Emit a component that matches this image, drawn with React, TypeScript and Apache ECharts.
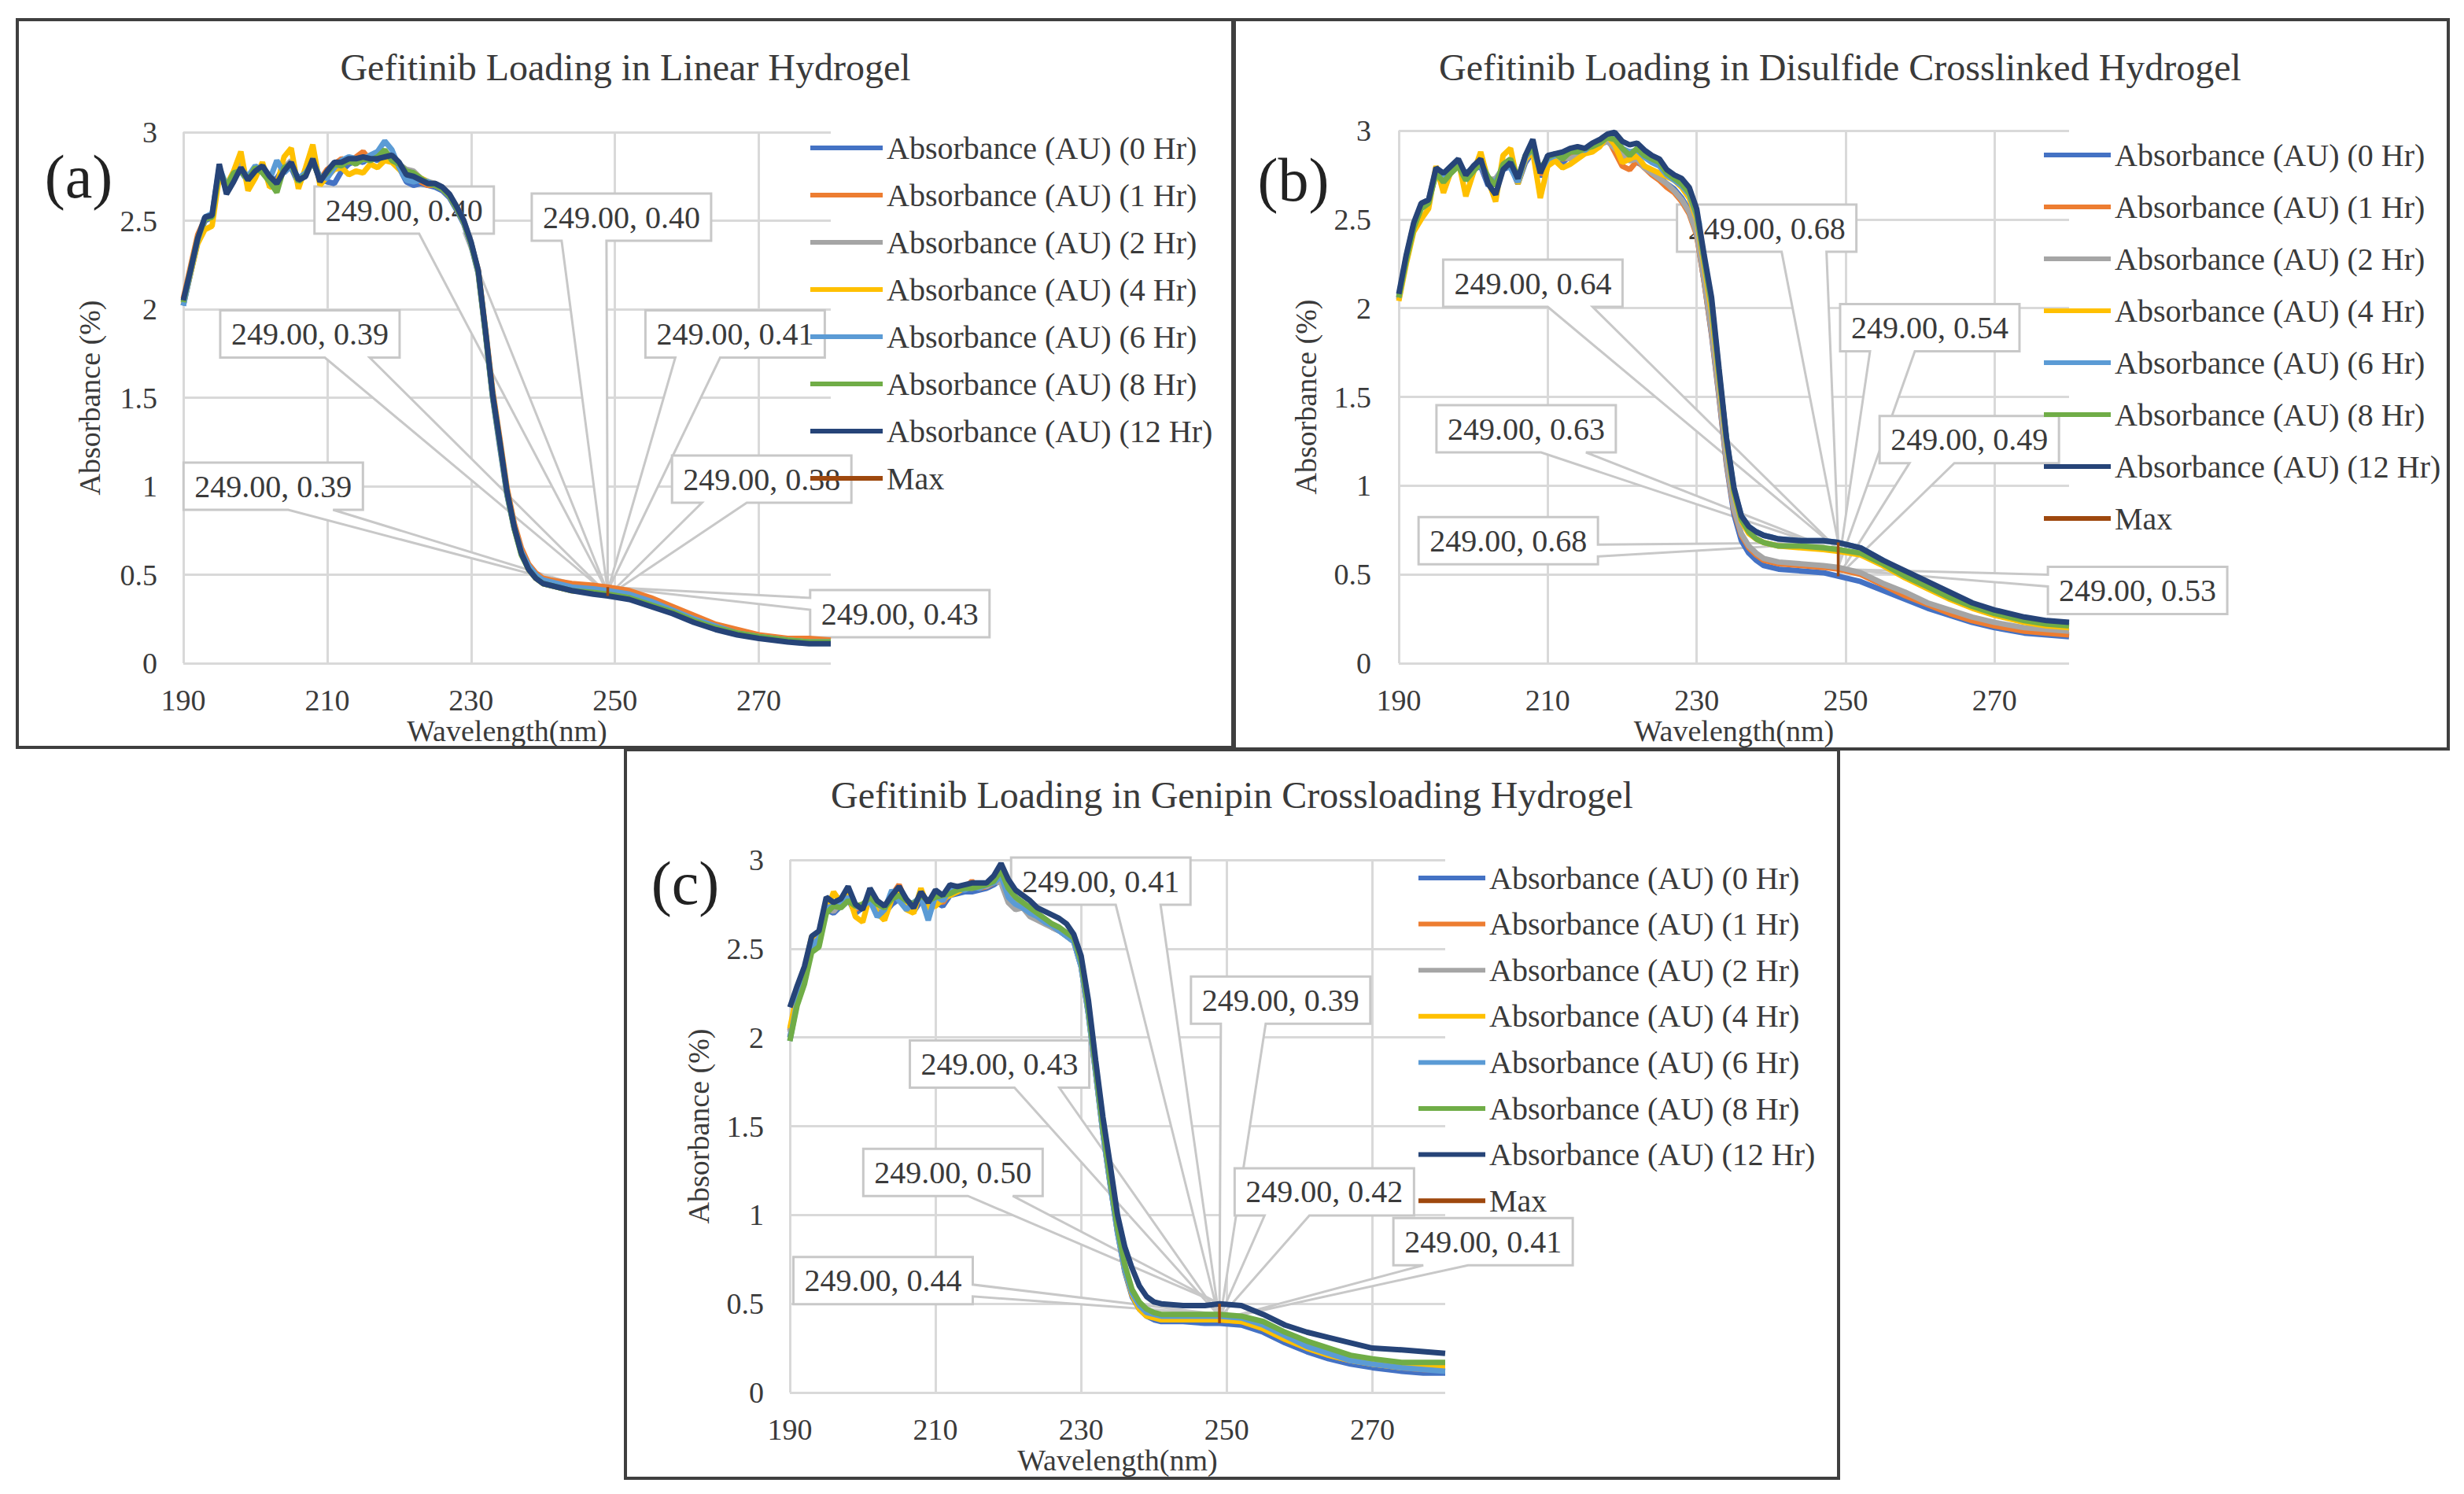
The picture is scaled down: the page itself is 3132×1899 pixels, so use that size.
import React, { useEffect, useRef } from "react";
import * as echarts from "echarts";

// wavelength grid shared by every curve (nm)
const wavelengths = [
  190, 191, 192, 193, 194, 195, 196, 197, 198, 199,
  200, 201, 202, 203, 204, 205, 206, 207, 208, 209,
  210, 211, 212, 213, 214, 215, 216, 217, 218, 219,
  220, 221, 222, 223, 224, 225, 226, 227, 228, 229,
  230, 231, 232, 233, 234, 235, 236, 237, 238, 239,
  240, 241, 244, 247, 249, 252, 255, 258, 261, 264,
  267, 270, 274, 277, 280,
];

const hours = ["0 Hr", "1 Hr", "2 Hr", "4 Hr", "6 Hr", "8 Hr", "12 Hr"];
const seriesNames = hours.map((h) => `Absorbance (AU) (${h})`);
const seriesColors = ["#4472C4", "#ED7D31", "#A5A5A5", "#FFC000", "#5B9BD5", "#70AD47", "#264478"];
const maxColor = "#9E480E";
const maxWavelength = 249;

// ---- (a) linear hydrogel ----
const lin0 = [
  2.02, 2.2, 2.38, 2.5, 2.52, 2.78, 2.68, 2.75, 2.78, 2.72,
  2.8, 2.79, 2.72, 2.74, 2.8, 2.8, 2.71, 2.78, 2.83, 2.74,
  2.72, 2.71, 2.78, 2.82, 2.84, 2.83, 2.86, 2.84, 2.88, 2.85,
  2.8, 2.72, 2.7, 2.71, 2.7, 2.69, 2.67, 2.63, 2.56, 2.48,
  2.36, 2.2, 1.86, 1.5, 1.22, 0.95, 0.76, 0.62, 0.54, 0.49,
  0.46, 0.45, 0.43, 0.41, 0.4, 0.38, 0.34, 0.3, 0.25, 0.21,
  0.17, 0.15, 0.13, 0.12, 0.12,
];
const lin1 = [
  2.06, 2.24, 2.42, 2.51, 2.52, 2.76, 2.69, 2.77, 2.82, 2.71,
  2.77, 2.8, 2.74, 2.72, 2.79, 2.82, 2.72, 2.76, 2.84, 2.73,
  2.79, 2.82, 2.85, 2.83, 2.86, 2.89, 2.84, 2.88, 2.85, 2.84,
  2.81, 2.74, 2.76, 2.72, 2.7, 2.7, 2.68, 2.64, 2.57, 2.49,
  2.37, 2.22, 1.89, 1.54, 1.27, 0.99, 0.79, 0.65, 0.56, 0.51,
  0.48, 0.47, 0.45, 0.44, 0.43, 0.41, 0.37, 0.32, 0.27, 0.22,
  0.19, 0.16, 0.14, 0.14, 0.13,
];
const lin2 = [
  2.04, 2.21, 2.39, 2.51, 2.53, 2.79, 2.67, 2.74, 2.83, 2.72,
  2.79, 2.8, 2.74, 2.7, 2.8, 2.84, 2.71, 2.77, 2.86, 2.73,
  2.77, 2.8, 2.82, 2.84, 2.83, 2.85, 2.87, 2.86, 2.89, 2.86,
  2.82, 2.79, 2.78, 2.74, 2.72, 2.71, 2.69, 2.65, 2.58, 2.5,
  2.38, 2.21, 1.87, 1.51, 1.24, 0.96, 0.77, 0.62, 0.54, 0.49,
  0.46, 0.45, 0.42, 0.41, 0.4, 0.38, 0.34, 0.29, 0.25, 0.2,
  0.17, 0.15, 0.13, 0.12, 0.12,
];
const lin4 = [
  2.03, 2.2, 2.37, 2.45, 2.47, 2.75, 2.7, 2.78, 2.89, 2.67,
  2.74, 2.83, 2.69, 2.7, 2.86, 2.91, 2.68, 2.8, 2.93, 2.7,
  2.75, 2.79, 2.8, 2.76, 2.78, 2.77, 2.82, 2.8, 2.84, 2.83,
  2.79, 2.75, 2.77, 2.74, 2.72, 2.7, 2.68, 2.64, 2.57, 2.49,
  2.37, 2.21, 1.87, 1.52, 1.25, 0.97, 0.77, 0.62, 0.53, 0.48,
  0.45, 0.44, 0.41, 0.4, 0.39, 0.37, 0.33, 0.29, 0.24, 0.2,
  0.17, 0.15, 0.13, 0.12, 0.12,
];
const lin6 = [
  2.02, 2.21, 2.39, 2.52, 2.54, 2.8, 2.7, 2.76, 2.79, 2.75,
  2.81, 2.78, 2.73, 2.84, 2.77, 2.81, 2.74, 2.77, 2.83, 2.75,
  2.74, 2.8, 2.84, 2.86, 2.85, 2.84, 2.87, 2.89, 2.95, 2.9,
  2.8, 2.73, 2.72, 2.73, 2.72, 2.7, 2.68, 2.64, 2.57, 2.49,
  2.37, 2.21, 1.87, 1.51, 1.24, 0.96, 0.77, 0.63, 0.55, 0.5,
  0.47, 0.46, 0.43, 0.42, 0.41, 0.39, 0.35, 0.3, 0.25, 0.21,
  0.17, 0.15, 0.13, 0.12, 0.12,
];
const lin8 = [
  2.04, 2.22, 2.4, 2.51, 2.52, 2.79, 2.69, 2.77, 2.78, 2.73,
  2.8, 2.77, 2.72, 2.66, 2.8, 2.82, 2.72, 2.76, 2.84, 2.73,
  2.77, 2.82, 2.81, 2.84, 2.82, 2.85, 2.84, 2.86, 2.9, 2.84,
  2.82, 2.78, 2.77, 2.74, 2.71, 2.7, 2.68, 2.64, 2.57, 2.49,
  2.37, 2.21, 1.87, 1.51, 1.24, 0.96, 0.76, 0.61, 0.53, 0.48,
  0.45, 0.44, 0.41, 0.4, 0.39, 0.37, 0.33, 0.29, 0.24, 0.2,
  0.17, 0.15, 0.13, 0.12, 0.12,
];
const lin12 = [
  2.05, 2.22, 2.4, 2.52, 2.53, 2.82, 2.65, 2.72, 2.8, 2.73,
  2.78, 2.81, 2.75, 2.71, 2.78, 2.83, 2.73, 2.75, 2.85, 2.72,
  2.78, 2.83, 2.83, 2.85, 2.85, 2.86, 2.85, 2.85, 2.86, 2.87,
  2.83, 2.76, 2.75, 2.73, 2.71, 2.71, 2.69, 2.65, 2.58, 2.5,
  2.38, 2.22, 1.88, 1.52, 1.25, 0.97, 0.77, 0.62, 0.53, 0.48,
  0.45, 0.44, 0.41, 0.39, 0.38, 0.36, 0.32, 0.28, 0.23, 0.19,
  0.16, 0.14, 0.12, 0.11, 0.11,
];
const maxLinear = [0.4, 0.4, 0.39, 0.41, 0.39, 0.38, 0.43];
// callout box centres [nm, absorbance]
const calloutsLinear = [
  [220.7, 2.56], [250.9, 2.52], [207.6, 1.86], [266.7, 1.86],
  [202.5, 1.0], [270.4, 1.04], [289.6, 0.28],
];

// ---- (b) disulfide crosslinked hydrogel ----
const dis0 = [
  2.05, 2.27, 2.46, 2.57, 2.6, 2.76, 2.72, 2.77, 2.8, 2.72,
  2.78, 2.8, 2.69, 2.72, 2.78, 2.8, 2.7, 2.82, 2.88, 2.74,
  2.82, 2.84, 2.82, 2.86, 2.85, 2.88, 2.9, 2.92, 2.95, 2.93,
  2.85, 2.84, 2.82, 2.8, 2.76, 2.74, 2.7, 2.67, 2.62, 2.55,
  2.42, 2.15, 1.85, 1.5, 1.12, 0.84, 0.69, 0.62, 0.58, 0.55,
  0.54, 0.53, 0.52, 0.51, 0.49, 0.46, 0.41, 0.36, 0.31, 0.27,
  0.23, 0.2, 0.17, 0.16, 0.15,
];
const dis1 = [
  2.06, 2.28, 2.47, 2.58, 2.6, 2.77, 2.73, 2.76, 2.82, 2.73,
  2.79, 2.82, 2.71, 2.7, 2.8, 2.81, 2.72, 2.84, 2.9, 2.75,
  2.83, 2.85, 2.84, 2.85, 2.87, 2.89, 2.91, 2.93, 2.96, 2.88,
  2.8, 2.78, 2.83, 2.79, 2.75, 2.72, 2.68, 2.65, 2.6, 2.53,
  2.41, 2.15, 1.86, 1.51, 1.13, 0.86, 0.72, 0.65, 0.61, 0.58,
  0.57, 0.56, 0.55, 0.54, 0.53, 0.5, 0.44, 0.38, 0.33, 0.28,
  0.24, 0.21, 0.18, 0.17, 0.16,
];
const dis2 = [
  2.07, 2.29, 2.47, 2.58, 2.61, 2.78, 2.74, 2.78, 2.81, 2.74,
  2.8, 2.81, 2.72, 2.73, 2.79, 2.82, 2.74, 2.83, 2.89, 2.77,
  2.84, 2.83, 2.85, 2.84, 2.86, 2.88, 2.9, 2.92, 2.94, 2.9,
  2.86, 2.83, 2.84, 2.79, 2.76, 2.73, 2.7, 2.66, 2.61, 2.54,
  2.42, 2.16, 1.87, 1.52, 1.14, 0.87, 0.73, 0.66, 0.62, 0.59,
  0.58, 0.57, 0.56, 0.55, 0.54, 0.51, 0.45, 0.4, 0.34, 0.3,
  0.26, 0.23, 0.2, 0.19, 0.18,
];
const dis4 = [
  2.04, 2.25, 2.43, 2.5, 2.56, 2.8, 2.65, 2.77, 2.83, 2.63,
  2.76, 2.88, 2.72, 2.6, 2.86, 2.9, 2.7, 2.84, 2.88, 2.62,
  2.8, 2.83, 2.79, 2.81, 2.84, 2.87, 2.88, 2.91, 2.97, 2.92,
  2.82, 2.84, 2.86, 2.8, 2.78, 2.76, 2.74, 2.72, 2.68, 2.62,
  2.5, 2.24, 1.98, 1.6, 1.24, 0.96, 0.8, 0.73, 0.7, 0.68,
  0.67, 0.66, 0.65, 0.64, 0.63, 0.61, 0.55, 0.48, 0.42, 0.36,
  0.31, 0.27, 0.23, 0.21, 0.2,
];
const dis6 = [
  2.06, 2.28, 2.46, 2.57, 2.6, 2.77, 2.75, 2.79, 2.81, 2.76,
  2.79, 2.81, 2.73, 2.71, 2.8, 2.79, 2.71, 2.85, 2.9, 2.77,
  2.84, 2.86, 2.86, 2.88, 2.89, 2.89, 2.92, 2.94, 2.97, 2.96,
  2.9, 2.88, 2.89, 2.85, 2.82, 2.8, 2.75, 2.72, 2.69, 2.64,
  2.52, 2.27, 2.02, 1.63, 1.26, 0.98, 0.83, 0.77, 0.74, 0.72,
  0.71, 0.7, 0.69, 0.69, 0.68, 0.65, 0.58, 0.51, 0.45, 0.39,
  0.33, 0.29, 0.25, 0.23, 0.22,
];
const dis8 = [
  2.06, 2.27, 2.45, 2.56, 2.59, 2.76, 2.71, 2.76, 2.8, 2.72,
  2.77, 2.82, 2.74, 2.69, 2.81, 2.84, 2.73, 2.86, 2.9, 2.78,
  2.85, 2.87, 2.84, 2.88, 2.88, 2.9, 2.91, 2.93, 2.96, 2.95,
  2.9, 2.86, 2.9, 2.86, 2.84, 2.82, 2.76, 2.73, 2.7, 2.65,
  2.53, 2.28, 2.03, 1.64, 1.26, 0.97, 0.81, 0.74, 0.7, 0.68,
  0.67, 0.66, 0.66, 0.65, 0.64, 0.62, 0.56, 0.49, 0.43, 0.37,
  0.32, 0.28, 0.24, 0.22, 0.21,
];
const dis12 = [
  2.08, 2.3, 2.48, 2.59, 2.61, 2.79, 2.76, 2.8, 2.84, 2.75,
  2.8, 2.84, 2.7, 2.64, 2.78, 2.82, 2.73, 2.86, 2.95, 2.76,
  2.86, 2.87, 2.88, 2.9, 2.91, 2.9, 2.93, 2.95, 2.98, 2.99,
  2.94, 2.92, 2.93, 2.89, 2.86, 2.84, 2.78, 2.75, 2.73, 2.68,
  2.56, 2.3, 2.06, 1.66, 1.27, 0.99, 0.83, 0.77, 0.74, 0.72,
  0.71, 0.7, 0.69, 0.69, 0.68, 0.65, 0.58, 0.52, 0.46, 0.4,
  0.34, 0.3, 0.26, 0.24, 0.23,
];
const maxDisulfide = [0.68, 0.64, 0.54, 0.63, 0.49, 0.68, 0.53];
const calloutsDisulfide = [
  [239.4, 2.45], [208.0, 2.14], [261.3, 1.89], [207.1, 1.32],
  [266.6, 1.26], [204.7, 0.69], [289.2, 0.41],
];

// ---- (c) genipin crossloading hydrogel ----
const gen0 = [
  2.0, 2.2, 2.32, 2.5, 2.55, 2.72, 2.7, 2.74, 2.78, 2.7,
  2.73, 2.76, 2.72, 2.7, 2.75, 2.78, 2.74, 2.71, 2.77, 2.73,
  2.76, 2.74, 2.8, 2.81, 2.82, 2.82, 2.83, 2.84, 2.86, 2.89,
  2.8, 2.76, 2.74, 2.71, 2.68, 2.65, 2.62, 2.6, 2.57, 2.54,
  2.4, 2.13, 1.8, 1.46, 1.17, 0.9, 0.68, 0.54, 0.47, 0.43,
  0.41, 0.4, 0.4, 0.39, 0.39, 0.38, 0.34, 0.28, 0.23, 0.19,
  0.16, 0.14, 0.12, 0.11, 0.11,
];
const gen1 = [
  2.04, 2.23, 2.35, 2.53, 2.57, 2.74, 2.72, 2.77, 2.8, 2.72,
  2.75, 2.78, 2.73, 2.74, 2.8, 2.86, 2.76, 2.73, 2.8, 2.75,
  2.78, 2.76, 2.82, 2.83, 2.84, 2.88, 2.84, 2.85, 2.87, 2.9,
  2.82, 2.78, 2.75, 2.72, 2.69, 2.66, 2.63, 2.61, 2.58, 2.55,
  2.41, 2.14, 1.81, 1.47, 1.18, 0.91, 0.69, 0.55, 0.48, 0.44,
  0.43, 0.42, 0.42, 0.41, 0.41, 0.4, 0.36, 0.3, 0.25, 0.21,
  0.18, 0.16, 0.14, 0.13, 0.13,
];
const gen2 = [
  2.03, 2.22, 2.34, 2.52, 2.56, 2.73, 2.71, 2.76, 2.79, 2.73,
  2.74, 2.79, 2.74, 2.72, 2.78, 2.83, 2.77, 2.74, 2.81, 2.76,
  2.77, 2.79, 2.84, 2.82, 2.85, 2.84, 2.86, 2.85, 2.88, 2.87,
  2.76, 2.72, 2.73, 2.68, 2.66, 2.64, 2.62, 2.6, 2.57, 2.54,
  2.4, 2.14, 1.81, 1.47, 1.18, 0.91, 0.7, 0.56, 0.49, 0.45,
  0.43, 0.43, 0.43, 0.42, 0.42, 0.41, 0.37, 0.31, 0.26, 0.22,
  0.19, 0.16, 0.15, 0.14, 0.14,
];
const gen4 = [
  2.05, 2.25, 2.38, 2.57, 2.58, 2.7, 2.82, 2.76, 2.81, 2.68,
  2.65, 2.8, 2.7, 2.66, 2.78, 2.82, 2.72, 2.7, 2.84, 2.73,
  2.74, 2.78, 2.8, 2.82, 2.84, 2.85, 2.87, 2.86, 2.88, 2.92,
  2.81, 2.78, 2.75, 2.72, 2.69, 2.66, 2.63, 2.61, 2.58, 2.55,
  2.41, 2.14, 1.81, 1.47, 1.18, 0.91, 0.69, 0.55, 0.47, 0.43,
  0.42, 0.41, 0.41, 0.41, 0.41, 0.4, 0.36, 0.3, 0.25, 0.21,
  0.18, 0.16, 0.14, 0.14, 0.14,
];
const gen6 = [
  1.98, 2.2, 2.33, 2.51, 2.56, 2.73, 2.74, 2.75, 2.79, 2.74,
  2.74, 2.77, 2.68, 2.72, 2.83, 2.77, 2.72, 2.76, 2.79, 2.66,
  2.8, 2.77, 2.83, 2.84, 2.83, 2.85, 2.84, 2.86, 2.87, 2.91,
  2.79, 2.75, 2.73, 2.7, 2.68, 2.65, 2.63, 2.6, 2.57, 2.54,
  2.4, 2.13, 1.8, 1.46, 1.17, 0.9, 0.69, 0.56, 0.49, 0.45,
  0.44, 0.43, 0.43, 0.43, 0.43, 0.42, 0.38, 0.32, 0.26, 0.22,
  0.18, 0.16, 0.14, 0.13, 0.12,
];
const gen8 = [
  1.98, 2.18, 2.3, 2.48, 2.51, 2.7, 2.74, 2.73, 2.77, 2.74,
  2.75, 2.79, 2.75, 2.73, 2.78, 2.8, 2.77, 2.75, 2.8, 2.77,
  2.79, 2.8, 2.81, 2.83, 2.84, 2.84, 2.85, 2.86, 2.88, 2.94,
  2.84, 2.79, 2.76, 2.73, 2.7, 2.67, 2.64, 2.62, 2.59, 2.56,
  2.43, 2.16, 1.83, 1.49, 1.2, 0.93, 0.72, 0.58, 0.51, 0.47,
  0.45, 0.44, 0.44, 0.44, 0.44, 0.43, 0.4, 0.34, 0.29, 0.25,
  0.21, 0.19, 0.17, 0.17, 0.17,
];
const gen12 = [
  2.17, 2.29, 2.4, 2.57, 2.6, 2.79, 2.76, 2.78, 2.85, 2.75,
  2.72, 2.84, 2.77, 2.74, 2.8, 2.85, 2.78, 2.73, 2.82, 2.76,
  2.83, 2.8, 2.86, 2.85, 2.86, 2.87, 2.87, 2.87, 2.91, 2.98,
  2.89, 2.83, 2.8, 2.77, 2.73, 2.71, 2.69, 2.67, 2.64, 2.58,
  2.46, 2.21, 1.87, 1.55, 1.28, 1.0, 0.82, 0.7, 0.6, 0.54,
  0.51, 0.5, 0.49, 0.49, 0.5, 0.49, 0.44, 0.38, 0.34, 0.31,
  0.28, 0.25, 0.24, 0.23, 0.22,
];
const maxGenipin = [0.41, 0.39, 0.43, 0.5, 0.42, 0.44, 0.41];
const calloutsGenipin = [
  [232.7, 2.88], [257.4, 2.21], [218.8, 1.85], [212.4, 1.24],
  [263.4, 1.13], [202.8, 0.63], [285.2, 0.85],
];

const FONT = "Liberation Serif";
const TEXT = "#3a3a3a";
const GRID_LINE = "#d9d9d9";
const BOX_W = 228;
const BOX_H = 60;

const panels = [
  {
    title: "Gefitinib Loading in Linear Hydrogel",
    tag: "(a)",
    curves: [lin0, lin1, lin2, lin4, lin6, lin8, lin12],
    max: maxLinear,
    callouts: calloutsLinear,
    frame: [22, 25, 1547, 925],
    grid: { left: 233, top: 168, width: 823, height: 675 },
    titleX: 795,
    titleTop: 61,
    tagPos: [100, 224],
    legend: { left: 1030, top: 168, itemWidth: 92, itemGap: 20 },
    xNameGap: 54,
    yNameGap: 100,
    yLabelMargin: 33,
  },
  {
    title: "Gefitinib Loading in Disulfide Crosslinked Hydrogel",
    tag: "(b)",
    curves: [dis0, dis1, dis2, dis4, dis6, dis8, dis12],
    max: maxDisulfide,
    callouts: calloutsDisulfide,
    frame: [1567, 25, 1545, 927],
    grid: { left: 1778, top: 166, width: 852, height: 677 },
    titleX: 2339,
    titleTop: 61,
    tagPos: [1644, 228],
    legend: { left: 2598, top: 177, itemWidth: 85, itemGap: 26 },
    xNameGap: 56,
    yNameGap: 99,
    yLabelMargin: 35,
  },
  {
    title: "Gefitinib Loading in Genipin Crossloading Hydrogel",
    tag: "(c)",
    curves: [gen0, gen1, gen2, gen4, gen6, gen8, gen12],
    max: maxGenipin,
    callouts: calloutsGenipin,
    frame: [795, 953, 1542, 926],
    grid: { left: 1004, top: 1093, width: 833, height: 677 },
    titleX: 1566,
    titleTop: 986,
    tagPos: [871, 1122],
    legend: { left: 1803, top: 1096, itemWidth: 85, itemGap: 18.6 },
    xNameGap: 55,
    yNameGap: 97,
    yLabelMargin: 33,
  },
];

// Excel-style wedge callout: box plus a tail pointing at the data point
const renderCallout = (_params: any, api: any) => {
  const tip = api.coord([api.value(0), api.value(1)]);
  const c = api.coord([api.value(2), api.value(3)]);
  const x0 = c[0] - BOX_W / 2;
  const x1 = c[0] + BOX_W / 2;
  const y0 = c[1] - BOX_H / 2;
  const y1 = c[1] + BOX_H / 2;
  const dx = tip[0] - c[0];
  const dy = tip[1] - c[1];
  let pts: number[][];
  if (Math.abs(dx) / BOX_W > Math.abs(dy) / BOX_H) {
    const a = y0 + BOX_H * (dy > 0 ? 7 / 12 : 2 / 12);
    const b = y0 + BOX_H * (dy > 0 ? 10 / 12 : 5 / 12);
    pts =
      dx > 0
        ? [[x0, y0], [x1, y0], [x1, a], tip, [x1, b], [x1, y1], [x0, y1]]
        : [[x0, y0], [x1, y0], [x1, y1], [x0, y1], [x0, b], tip, [x0, a]];
  } else {
    const a = x0 + BOX_W * (dx > 0 ? 7 / 12 : 2 / 12);
    const b = x0 + BOX_W * (dx > 0 ? 10 / 12 : 5 / 12);
    pts =
      dy > 0
        ? [[x0, y0], [x1, y0], [x1, y1], [b, y1], tip, [a, y1], [x0, y1]]
        : [[x0, y0], [a, y0], tip, [b, y0], [x1, y0], [x1, y1], [x0, y1]];
  }
  return {
    type: "group",
    children: [
      {
        type: "polygon",
        shape: { points: pts },
        style: { fill: "#ffffff", stroke: "#c8c8c8", lineWidth: 3 },
      },
      {
        type: "text",
        style: {
          text: `${Number(api.value(0)).toFixed(2)}, ${Number(api.value(1)).toFixed(2)}`,
          x: c[0],
          y: c[1],
          align: "center",
          verticalAlign: "middle",
          fontSize: 40,
          fontFamily: FONT,
          fill: TEXT,
        },
      },
    ],
  };
};

const App = () => {
  const chartRef = useRef<HTMLDivElement>(null);

  useEffect(() => {
    if (!chartRef.current) return;
    const chart = echarts.init(chartRef.current, null, { renderer: "svg" });

    const series: any[] = [];
    panels.forEach((p, i) => {
      p.curves.forEach((values, k) => {
        series.push({
          type: "line",
          name: seriesNames[k],
          xAxisIndex: i,
          yAxisIndex: i,
          data: wavelengths.map((w, j) => [w, values[j]]),
          symbol: "none",
          silent: true,
          lineStyle: { width: 7, color: seriesColors[k] },
          itemStyle: { color: seriesColors[k] },
        });
      });
      series.push({
        type: "line",
        name: "Max",
        xAxisIndex: i,
        yAxisIndex: i,
        data: p.max.map((v) => [maxWavelength, v]),
        symbol: "none",
        silent: true,
        lineStyle: { width: 3.5, color: maxColor },
        itemStyle: { color: maxColor },
      });
      series.push({
        type: "custom",
        name: `callouts-${i}`,
        xAxisIndex: i,
        yAxisIndex: i,
        z: 3,
        silent: true,
        data: p.max.map((v, k) => [maxWavelength, v, p.callouts[k][0], p.callouts[k][1]]),
        encode: { x: 0, y: 1 },
        renderItem: renderCallout,
      });
    });

    const option: any = {
      animation: false,
      backgroundColor: "#ffffff",
      textStyle: { fontFamily: FONT },
      title: panels.map((p) => ({
        text: p.title,
        left: p.titleX - 5,
        top: p.titleTop - 5,
        textAlign: "center",
        textStyle: { fontSize: 48, fontWeight: "normal", color: TEXT, fontFamily: FONT },
      })),
      legend: panels.map((p) => ({
        orient: "vertical",
        left: p.legend.left,
        top: p.legend.top,
        padding: 0,
        icon: "rect",
        itemWidth: p.legend.itemWidth,
        itemHeight: 6,
        itemGap: p.legend.itemGap,
        selectedMode: false,
        data: [...seriesNames, "Max"],
        textStyle: { fontSize: 40, color: TEXT, fontFamily: FONT },
      })),
      grid: panels.map((p) => ({ ...p.grid, containLabel: false })),
      xAxis: panels.map((p, i) => ({
        type: "value",
        gridIndex: i,
        min: 190,
        max: 280,
        interval: 20,
        name: "Wavelength(nm)",
        nameLocation: "middle",
        nameGap: p.xNameGap,
        nameTextStyle: { fontSize: 38, color: TEXT, fontFamily: FONT },
        axisLine: { show: false },
        axisTick: { show: false },
        axisLabel: { fontSize: 38, color: TEXT, margin: 28, showMaxLabel: false, fontFamily: FONT },
        splitLine: { show: true, showMaxLine: false, lineStyle: { color: GRID_LINE, width: 3 } },
      })),
      yAxis: panels.map((p, i) => ({
        type: "value",
        gridIndex: i,
        min: 0,
        max: 3,
        interval: 0.5,
        name: "Absorbance (%)",
        nameLocation: "middle",
        nameGap: p.yNameGap,
        nameTextStyle: { fontSize: 38, color: TEXT, fontFamily: FONT },
        axisLine: { show: false },
        axisTick: { show: false },
        axisLabel: { fontSize: 38, color: TEXT, margin: p.yLabelMargin, fontFamily: FONT },
        splitLine: { show: true, lineStyle: { color: GRID_LINE, width: 3 } },
      })),
      series,
      graphic: [
        ...panels.map((p) => ({
          type: "rect",
          shape: { x: p.frame[0], y: p.frame[1], width: p.frame[2], height: p.frame[3] },
          style: { fill: "none", stroke: "#3f3f3f", lineWidth: 4 },
          silent: true,
        })),
        ...panels.map((p) => ({
          type: "text",
          x: p.tagPos[0],
          y: p.tagPos[1],
          style: {
            text: p.tag,
            align: "center",
            verticalAlign: "middle",
            fontSize: 78,
            fontFamily: FONT,
            fill: "#222222",
          },
          silent: true,
        })),
      ],
    };

    chart.setOption(option);

    return () => {
      chart.dispose();
    };
  }, []);

  return (
    <div
      ref={chartRef}
      style={{ position: "absolute", left: 0, top: 0, width: 3132, height: 1899, background: "#ffffff" }}
    />
  );
};

export default App;
